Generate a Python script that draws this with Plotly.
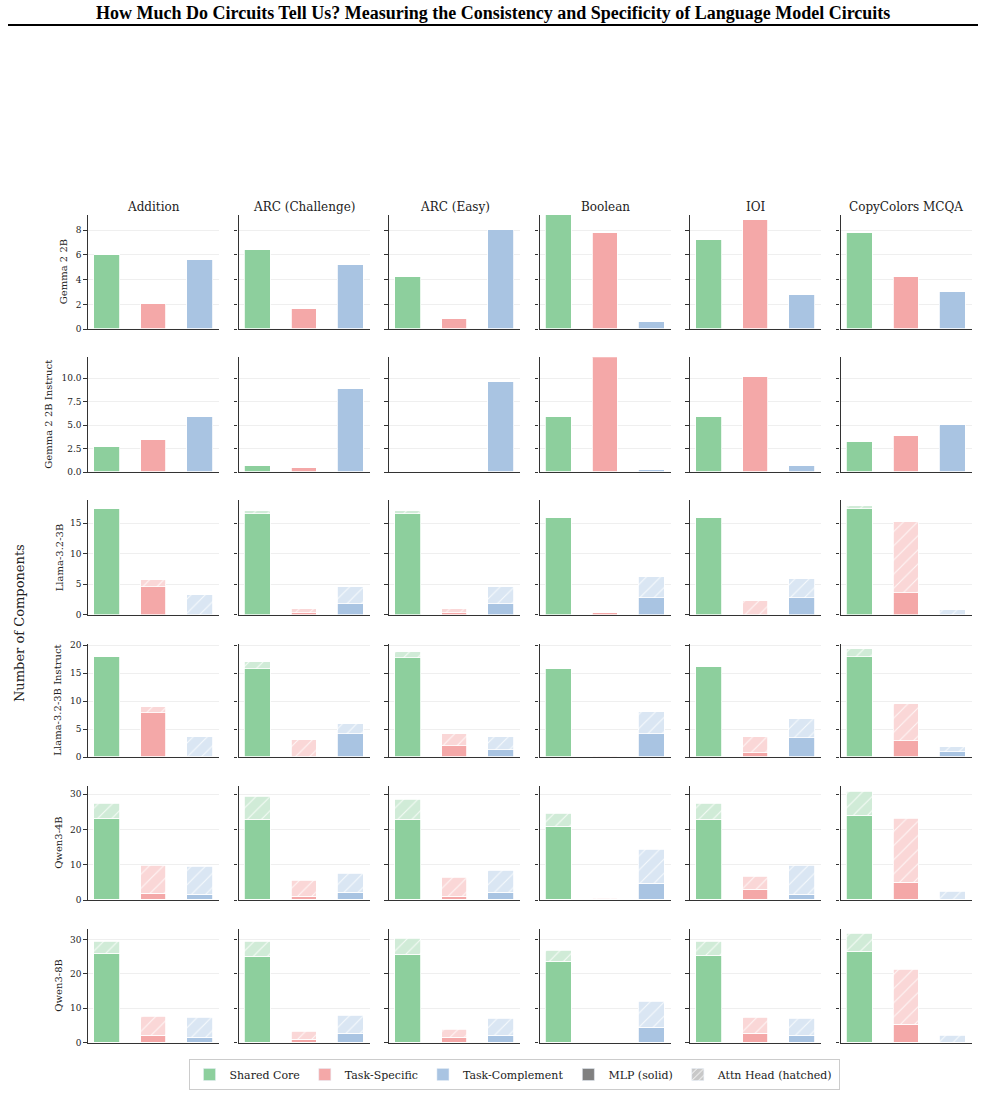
import plotly.graph_objects as go
from plotly.subplots import make_subplots

TITLE = "How Much Do Circuits Tell Us? Measuring the Consistency and Specificity of Language Model Circuits"
TASKS = ["Addition", "ARC (Challenge)", "ARC (Easy)", "Boolean", "IOI", "CopyColors MCQA"]
MODELS = ["Gemma 2 2B", "Gemma 2 2B Instruct", "Llama-3.2-3B",
          "Llama-3.2-3B Instruct", "Qwen3-4B", "Qwen3-8B"]
CATEGORIES = ["Shared Core", "Task-Specific", "Task-Complement"]

# per model: one [shared, specific, complement] triple per task (order of TASKS)
MLP_GEMMA = [[6.0, 2.0, 5.6], [6.4, 1.6, 5.2], [4.2, 0.8, 8.0],
             [9.2, 7.8, 0.6], [7.2, 8.8, 2.8], [7.8, 4.2, 3.0]]
ATTN_GEMMA = [[0, 0, 0], [0, 0, 0], [0, 0, 0], [0, 0, 0], [0, 0, 0], [0, 0, 0]]

MLP_GEMMA_IT = [[2.6, 3.4, 5.8], [0.6, 0.4, 8.8], [0.0, 0.0, 9.6],
                [5.8, 12.2, 0.2], [5.8, 10.1, 0.6], [3.2, 3.8, 5.0]]
ATTN_GEMMA_IT = [[0, 0, 0], [0, 0, 0], [0, 0, 0], [0, 0, 0], [0, 0, 0], [0, 0, 0]]

MLP_LLAMA = [[17.3, 4.6, 0.0], [16.5, 0.3, 1.7], [16.5, 0.3, 1.8],
             [15.8, 0.2, 2.7], [15.8, 0.0, 2.7], [17.3, 3.5, 0.0]]
ATTN_LLAMA = [[0.0, 1.0, 3.2], [0.5, 0.7, 2.8], [0.5, 0.7, 2.8],
              [0.0, 0.0, 3.5], [0.0, 2.2, 3.1], [0.5, 11.7, 0.8]]

MLP_LLAMA_IT = [[17.9, 7.9, 0.0], [15.7, 0.0, 4.1], [17.7, 2.1, 1.3],
                [15.7, 0.0, 4.1], [16.1, 0.7, 3.5], [17.9, 2.9, 0.9]]
ATTN_LLAMA_IT = [[0.0, 1.0, 3.6], [1.2, 3.0, 1.8], [1.0, 2.1, 2.3],
                 [0.0, 0.2, 3.9], [0.0, 3.0, 3.3], [1.4, 6.6, 0.9]]

MLP_QWEN4 = [[23.1, 1.7, 1.4], [22.7, 0.9, 2.1], [22.7, 0.9, 2.1],
             [20.8, 0.0, 4.5], [22.9, 2.9, 1.4], [23.8, 4.8, 0.0]]
ATTN_QWEN4 = [[4.1, 8.0, 8.0], [6.6, 4.7, 5.5], [5.9, 5.4, 6.3],
              [3.8, 0.3, 9.9], [4.4, 3.6, 8.3], [6.9, 18.4, 2.3]]

MLP_QWEN8 = [[25.8, 1.9, 1.4], [24.9, 0.8, 2.7], [25.5, 1.4, 1.9],
             [23.6, 0.1, 4.3], [25.2, 2.5, 1.9], [26.3, 5.2, 0.0]]
ATTN_QWEN8 = [[3.4, 5.7, 6.0], [4.5, 2.5, 5.2], [4.6, 2.3, 5.2],
              [3.1, 0.0, 7.6], [4.2, 4.9, 5.2], [5.3, 16.1, 1.9]]

MLP = [MLP_GEMMA, MLP_GEMMA_IT, MLP_LLAMA, MLP_LLAMA_IT, MLP_QWEN4, MLP_QWEN8]
ATTN = [ATTN_GEMMA, ATTN_GEMMA_IT, ATTN_LLAMA, ATTN_LLAMA_IT, ATTN_QWEN4, ATTN_QWEN8]

YMAX = [9.21, 12.24, 18.77, 20.18, 32.45, 33.1]
YDTICK = [2, 2.5, 5, 5, 10, 10]
YFMT = ["d", ".1f", "d", "d", "d", "d"]

SOLID = ["#8dcf9d", "#f4a8a8", "#a9c4e2"]
LIGHT = ["#d0ebd7", "#fad7d7", "#dae6f3"]

W, H = 985, 1098
SERIF = "DejaVu Serif"

fig = make_subplots(rows=6, cols=6)

col_left = [88 + 150.5 * c for c in range(6)]
col_w = 131
row_tb = [(215, 329.3), (357.3, 472), (500, 614.7), (644, 757.3), (785.7, 900), (928.7, 1042.7)]

for r in range(6):
    for c in range(6):
        for k in range(3):
            fig.add_trace(go.Bar(
                x=[k], y=[MLP[r][c][k]], width=0.55, showlegend=False,
                marker=dict(color=SOLID[k], line=dict(color="white", width=0.8)),
                hoverinfo="y"), row=r + 1, col=c + 1)
            fig.add_trace(go.Bar(
                x=[k], y=[ATTN[r][c][k]], width=0.55, showlegend=False,
                marker=dict(color=LIGHT[k], line=dict(color="white", width=0.8),
                            pattern=dict(shape="/", fgcolor="white", bgcolor=LIGHT[k],
                                         fillmode="replace", fgopacity=0.8,
                                         size=10, solidity=0.1)),
                hoverinfo="y"), row=r + 1, col=c + 1)
        n = r * 6 + c + 1
        xa = "xaxis" if n == 1 else f"xaxis{n}"
        ya = "yaxis" if n == 1 else f"yaxis{n}"
        x0 = col_left[c] / W
        x1 = (col_left[c] + col_w) / W
        top, bot = row_tb[r]
        fig.layout[xa].update(
            domain=[x0, x1], range=[-0.4025, 2.4025], showticklabels=False,
            ticks="", showgrid=False, zeroline=False, showline=True,
            linecolor="#333333", linewidth=1.3, automargin=False)
        fig.layout[ya].update(
            domain=[1 - bot / H, 1 - top / H], range=[0, YMAX[r]],
            dtick=YDTICK[r], tick0=0, tickformat=YFMT[r],
            showticklabels=(c == 0), ticks="outside", ticklen=3.5,
            tickcolor="#333333", tickwidth=1, showline=True,
            linecolor="#333333", linewidth=1.3, zeroline=False,
            showgrid=True, gridcolor="#efefef", gridwidth=1, automargin=False,
            tickfont=dict(family=SERIF, size=9, color="#222222"))

# legend entries
for name, color in zip(CATEGORIES, SOLID):
    fig.add_trace(go.Bar(x=[None], y=[None], name=name,
                         marker=dict(color=color)), row=1, col=1)
fig.add_trace(go.Bar(x=[None], y=[None], name="MLP (solid)",
                     marker=dict(color="#808080")), row=1, col=1)
fig.add_trace(go.Bar(x=[None], y=[None], name="Attn Head (hatched)",
                     marker=dict(color="#c8c8c8",
                                 pattern=dict(shape="/", fgcolor="white", bgcolor="#c8c8c8",
                                              fillmode="replace", size=6, solidity=0.2))),
              row=1, col=1)

annotations = []
for c, t in enumerate(TASKS):
    annotations.append(dict(
        text=t, x=(col_left[c] + col_w / 2) / W, y=1 - 207 / H, xref="paper", yref="paper",
        xanchor="center", yanchor="middle", showarrow=False,
        font=dict(family=SERIF, size=12, color="#222222")))
row_label_x = [63, 49, 59, 58, 59, 59]
for r, m in enumerate(MODELS):
    top, bot = row_tb[r]
    annotations.append(dict(
        text=m, x=row_label_x[r] / W, y=1 - (top + bot) / 2 / H, xref="paper", yref="paper",
        xanchor="center", yanchor="middle", showarrow=False, textangle=-90,
        font=dict(family=SERIF, size=10, color="#222222")))
annotations.append(dict(
    text="Number of Components", x=19 / W, y=1 - 623 / H, xref="paper", yref="paper",
    xanchor="center", yanchor="middle", showarrow=False, textangle=-90,
    font=dict(family=SERIF, size=13, color="#222222")))
annotations.append(dict(
    text="<b>" + TITLE + "</b>", x=0.5, y=1 - 13 / H, xref="paper", yref="paper",
    xanchor="center", yanchor="middle", showarrow=False,
    font=dict(family="Liberation Serif", size=18, color="#000000")))

fig.update_layout(
    width=W, height=H, margin=dict(l=0, r=0, t=0, b=0, pad=0, autoexpand=False),
    paper_bgcolor="white", plot_bgcolor="white",
    barmode="stack", bargap=0,
    annotations=annotations,
    shapes=[dict(type="line", xref="paper", yref="paper",
                 x0=8 / W, x1=978 / W, y0=1 - 25 / H, y1=1 - 25 / H,
                 line=dict(color="black", width=2))],
    legend=dict(orientation="h", x=514 / W, xanchor="center", y=1 - 1090 / H, yanchor="bottom",
                bordercolor="#cccccc", borderwidth=1, bgcolor="white",
                font=dict(family=SERIF, size=11, color="#222222"),
                traceorder="normal", itemwidth=30, tracegroupgap=0),
)

fig.write_html("out.html")
